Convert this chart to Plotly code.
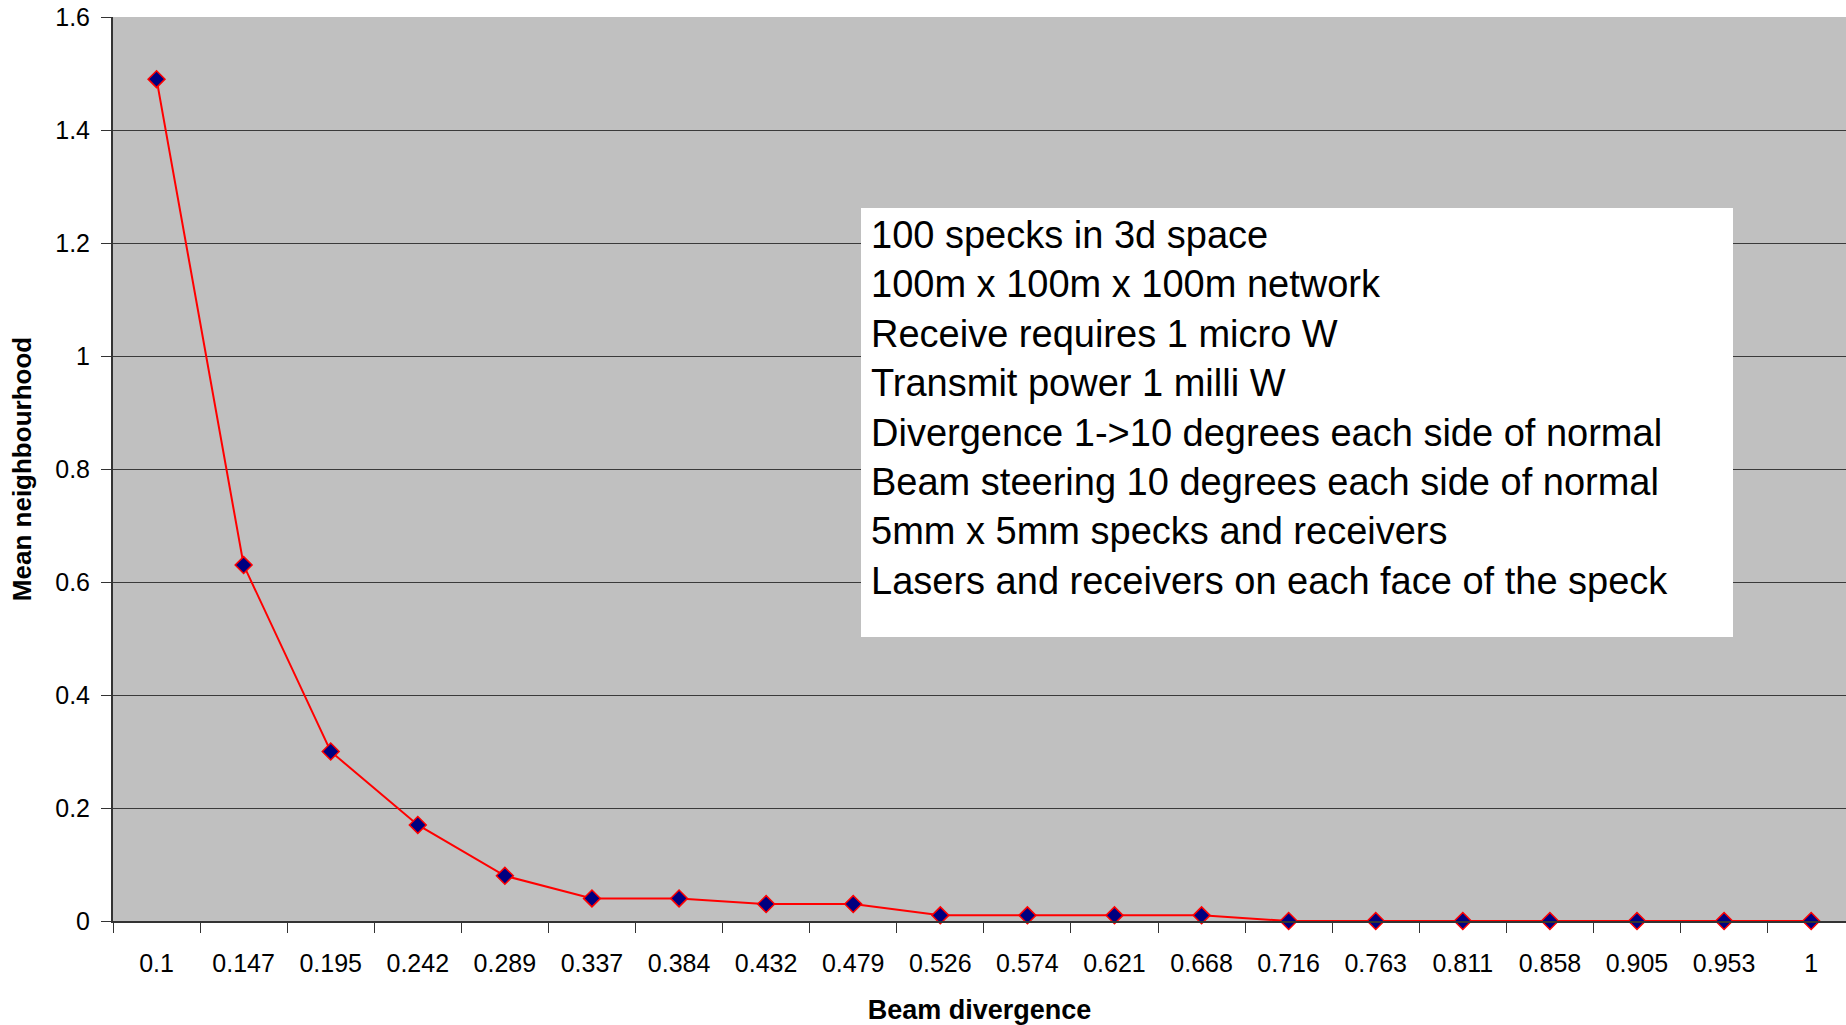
import plotly.graph_objects as go

# Data
beam_divergence = ["0.1", "0.147", "0.195", "0.242", "0.289", "0.337", "0.384",
                   "0.432", "0.479", "0.526", "0.574", "0.621", "0.668", "0.716",
                   "0.763", "0.811", "0.858", "0.905", "0.953", "1"]
mean_neighbourhood = [1.49, 0.63, 0.30, 0.17, 0.08, 0.04, 0.04,
                      0.03, 0.03, 0.01, 0.01, 0.01, 0.01, 0.0,
                      0.0, 0.0, 0.0, 0.0, 0.0, 0.0]
y_ticks = [0, 0.2, 0.4, 0.6, 0.8, 1.0, 1.2, 1.4, 1.6]
info_lines = [
    "100 specks in 3d space",
    "100m x 100m x 100m network",
    "Receive requires 1 micro W",
    "Transmit power 1 milli W",
    "Divergence 1->10 degrees each side of normal",
    "Beam steering 10 degrees each side of normal",
    "5mm x 5mm specks and receivers",
    "Lasers and receivers on each face of the speck",
]

FONT = "Arial, Liberation Sans, sans-serif"
W, H = 1846, 1025
L, R, T, B = 113, 0, 17, 1025 - 921
pw, ph = W - L - R, H - T - B

def px_x(p):  # screen pixel -> paper x
    return (p - L) / pw

def px_y(p):  # screen pixel -> paper y
    return (921 - p) / ph

fig = go.Figure()
fig.add_trace(go.Scatter(
    x=beam_divergence, y=mean_neighbourhood, mode="lines+markers",
    line=dict(color="#FF0000", width=2),
    marker=dict(symbol="diamond", size=13, color="#000080",
                line=dict(color="#FF0000", width=1.5)),
    showlegend=False, cliponaxis=False,
))

fig.add_shape(type="rect", xref="paper", yref="paper",
              x0=px_x(861), x1=px_x(1733), y0=px_y(637), y1=px_y(208),
              fillcolor="white", line=dict(width=0), layer="above")

fig.add_annotation(xref="paper", yref="paper", x=px_x(869), y=px_y(408),
                   xanchor="left", yanchor="middle", align="left",
                   text="<br>".join(info_lines), showarrow=False,
                   font=dict(family=FONT, size=38, color="black"))

fig.update_layout(
    width=W, height=H,
    margin=dict(l=L, r=R, t=T, b=B, autoexpand=False),
    paper_bgcolor="white", plot_bgcolor="#C0C0C0",
    font=dict(family=FONT, color="black"),
    xaxis=dict(type="category", range=[-0.5, 19.4], tickson="boundaries",
               ticks="outside", ticklen=10, tickcolor="#333333", tickwidth=1,
               showgrid=False, showline=True, linecolor="#333333", linewidth=1.5,
               tickfont=dict(size=25, family=FONT), ticklabelstandoff=19,
               ticklabeloverflow="allow",
               title=dict(text="Beam divergence", standoff=25,
                          font=dict(size=27, family=FONT, weight="bold"))),
    yaxis=dict(range=[0, 1.6], tickvals=y_ticks, ticks="outside", ticklen=10,
               tickcolor="#333333", showgrid=True, gridcolor="#3a3a3a", gridwidth=1.3,
               showline=True, linecolor="#333333", linewidth=2, zeroline=False,
               tickfont=dict(size=25, family=FONT), ticklabelstandoff=6,
               ticklabeloverflow="allow",
               title=dict(text="Mean neighbourhood", standoff=16,
                          font=dict(size=26, family=FONT, weight="bold"))),
)

fig.write_html("out.html", config={"displayModeBar": False},
               post_script="document.body.style.margin='0';document.body.style.overflow='hidden';")
